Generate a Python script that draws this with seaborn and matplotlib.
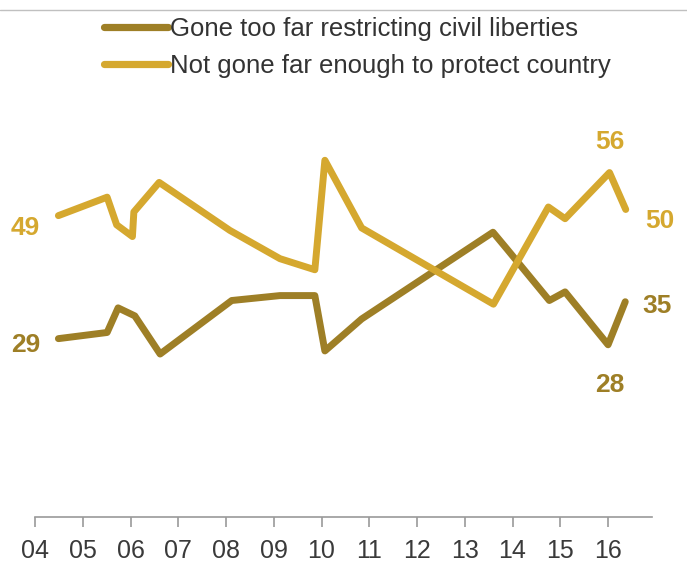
import matplotlib
matplotlib.use("Agg")
import matplotlib.pyplot as plt
from matplotlib.lines import Line2D
import seaborn as sns
import pandas as pd

# ---- data ----
series_names = ["Gone too far restricting civil liberties",
                "Not gone far enough to protect country"]
gone_x = [4.49, 5.51, 5.74, 6.09, 6.62, 8.12, 9.13, 9.86, 10.07, 10.84,
          13.59, 13.88, 14.77, 15.10, 16.00, 16.36]
gone_y = [29, 30, 34, 32.7, 26.5, 35.2, 36, 36, 27, 32.2,
          46.3, 43.6, 35.2, 36.6, 28, 35]
notfar_x = [4.49, 5.51, 5.71, 6.04, 6.07, 6.60, 8.08, 9.13, 9.86, 10.07,
            10.84, 13.60, 14.75, 15.10, 16.03, 16.37]
notfar_y = [49, 52, 47.5, 45.6, 49.6, 54.4, 46.6, 42, 40.2, 58,
            47, 34.6, 50.4, 48.5, 56, 50]
tick_years = list(range(4, 17))
tick_labels = [f"{y:02d}" for y in tick_years]

colors = {series_names[0]: "#9E7F26", series_names[1]: "#D5A82F"}

df = pd.concat([
    pd.DataFrame({"year": gone_x, "value": gone_y, "series": series_names[0]}),
    pd.DataFrame({"year": notfar_x, "value": notfar_y, "series": series_names[1]}),
], ignore_index=True)

sns.set_style("white")
plt.rcParams["font.family"] = ["Liberation Sans", "DejaVu Sans"]

W, H = 687, 562
fig = plt.figure(figsize=(W / 100, H / 100), dpi=100)
ax = fig.add_axes([35 / W, 1 - 517 / H, (652 - 35) / W, (517 - 100) / H])

sns.lineplot(data=df, x="year", y="value", hue="series", palette=colors,
             estimator=None, linewidth=5.0, legend=False, ax=ax)
for ln in ax.get_lines():
    ln.set_solid_capstyle("round")
    ln.set_solid_joinstyle("round")

ax.set_xlim(4, 16.92)
ax.set_ylim(0, 67.8)
ax.set_xticks(tick_years)
ax.set_xticklabels(tick_labels)
ax.set_yticks([])
ax.set_xlabel("")
ax.set_ylabel("")
for s in ["left", "right", "top"]:
    ax.spines[s].set_visible(False)
ax.spines["bottom"].set_color("#9a9a9a")
ax.spines["bottom"].set_linewidth(1.2)
ax.tick_params(axis="x", length=7, width=1.2, color="#9a9a9a",
               labelsize=18, labelcolor="#3a3a3a", pad=9, direction="out",
               bottom=True)

# value labels
lab_kw = dict(textcoords="offset pixels", ha="center", va="center_baseline",
              fontsize=19, fontweight="bold")
gc, nc = colors[series_names[0]], colors[series_names[1]]
ax.annotate(f"{notfar_y[0]:.0f}", (notfar_x[0], notfar_y[0]), xytext=(-33, -10), color=nc, **lab_kw)
ax.annotate(f"{gone_y[0]:.0f}", (gone_x[0], gone_y[0]), xytext=(-33, -4), color=gc, **lab_kw)
ax.annotate(f"{notfar_y[-2]:.0f}", (notfar_x[-2], notfar_y[-2]), xytext=(0, 33), color=nc, **lab_kw)
ax.annotate(f"{notfar_y[-1]:.0f}", (notfar_x[-1], notfar_y[-1]), xytext=(34, -9), color=nc, **lab_kw)
ax.annotate(f"{gone_y[-1]:.0f}", (gone_x[-1], gone_y[-1]), xytext=(32, -2), color=gc, **lab_kw)
ax.annotate(f"{gone_y[-2]:.0f}", (gone_x[-2], gone_y[-2]), xytext=(2, -38), color=gc, **lab_kw)

# legend
handles = [Line2D([], [], color=colors[n], lw=5.2, solid_capstyle="round") for n in series_names]
leg = fig.legend(handles, series_names, loc="upper left",
                 bbox_to_anchor=(104 / W, 1 - 17 / H), frameon=False,
                 fontsize=18.5, handlelength=2.5, handletextpad=0.08,
                 borderpad=0, borderaxespad=0, labelspacing=0.5)
for t in leg.get_texts():
    t.set_color("#333333")

# thin rule at top
fig.add_artist(Line2D([0, 1], [1 - 10 / H, 1 - 10 / H], color="#c0c0c0", lw=1,
                      transform=fig.transFigure))

fig.savefig("out.png", dpi=100)
